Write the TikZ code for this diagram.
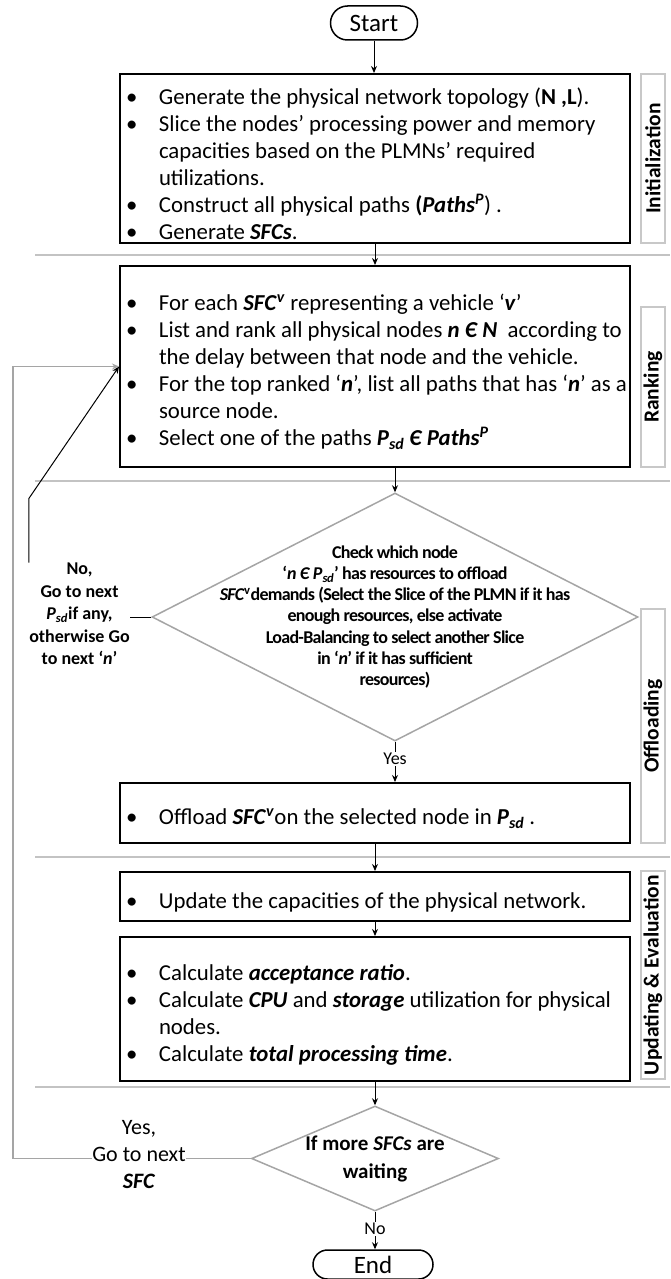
\documentclass[tikz,border=0pt]{standalone}
\usepackage{fontspec}
\setmainfont{Carlito}
\newfontfamily\tightfont[LetterSpace=-4]{Carlito}
\usetikzlibrary{arrows.meta,positioning,shapes.geometric,shapes.misc}

\definecolor{flowgray}{RGB}{165,165,165}
\definecolor{sepgray}{RGB}{195,195,195}
\definecolor{phasegray}{RGB}{200,200,200}

\newcommand{\bi}[1]{\textbf{\textit{#1}}}
\newcommand{\bitem}{\par\noindent\rightskip=0pt plus 1fil\relax\parfillskip=0pt plus 1fil\relax
  \spaceskip=0pt\relax\xspaceskip=0pt\relax
  \hangindent=36pt\hangafter=1\makebox[36pt][l]{\hspace{3pt}\textbullet}\ignorespaces}

\begin{document}
\begin{tikzpicture}[x=1pt, y=1pt, line width=1pt, >={Stealth[length=7pt,width=6pt]},
  stepbox/.style={draw, line width=2pt, minimum width=510pt, text width=504pt, inner xsep=3pt, inner ysep=0pt, font=\fontsize{22.8}{27}\selectfont},
  phase/.style={draw=phasegray, line width=1.5pt, rotate=90, minimum height=24pt, inner sep=0pt, font=\bfseries\fontsize{21.5}{24}\selectfont},
  terminal/.style={rounded rectangle, draw, line width=1.5pt, inner sep=0pt, font=\fontsize{25}{30}\selectfont},
  decision/.style={diamond, draw=flowgray, line width=1.5pt, inner sep=0pt},
  dtext/.style={align=center, inner sep=0pt, font=\tightfont\bfseries\fontsize{18}{21.3}\selectfont},
  looplabel/.style={align=center, inner sep=0pt},
  sepline/.style={draw=sepgray, line width=2pt},
  loopline/.style={draw=flowgray, line width=1.3pt}]

\useasboundingbox (0,0) rectangle (670,-1279);

% phase separators
\foreach \y in {255,481,857,1087}
  \draw[sepline] (35,-\y) -- (670,-\y);

\node[terminal, minimum width=87pt, minimum height=34pt] (start) at (374,-23) {Start};

% Initialization
\node[stepbox, minimum height=169pt] (init) at (375,-158.5) {
  \bitem Generate the physical network topology (\textbf{N ,L}).
  \bitem Slice the nodes’ processing power and memory\newline capacities based on the PLMNs' required\newline utilizations.
  \bitem Construct all physical paths \textbf{(}\bi{Paths\textsuperscript{P}}) .
  \bitem Generate \bi{SFCs}.\par};
\node[phase, minimum width=169pt] (initlbl) at (653,-158.5) {Initialization};

% Ranking
\node[stepbox, minimum height=201pt] (rank) at (375,-366.5) {
  \bitem For each \bi{SFC}\textsuperscript{\bi{v}} representing a vehicle ‘\bi{v}’
  \bitem List and rank all physical nodes \bi{n Є N}~ according to\newline the delay between that node and the vehicle.
  \bitem For the top ranked ‘\bi{n}’, list all paths that has ‘\bi{n}’ as a\newline source node.
  \bitem Select one of the paths \bi{P\textsubscript{sd} Є Paths\textsuperscript{P}}\par};
\node[phase, minimum width=160pt] (ranklbl) at (653,-387) {Ranking};

% Offloading
\node[decision, minimum width=486pt, minimum height=248pt,
  label={[dtext]center:{Check which node\\ ‘\textit{n Є P\textsubscript{sd}}’ has resources to offload\\ \textit{SFC}\textsuperscript{v}demands (Select the Slice of the PLMN if it has\\ enough resources, else activate\\ Load-Balancing to select another Slice\\ in ‘\textit{n}’ if it has sufficient\\ resources)}}] (check) at (395,-617) {};
\node[looplabel, font=\bfseries\fontsize{18}{22.5}\selectfont] (nolbl) at (79.5,-614) {No,\\ Go to next\\ \textit{P\textsubscript{sd}}if any,\\ otherwise Go\\ to next ‘\textit{n}’};
\node[stepbox, minimum height=60pt] (offload) at (375,-813) {
  \bitem Offload \bi{SFC}\textsuperscript{\bi{v}}on the selected node in \bi{P\textsubscript{sd}} .\par};
\node[phase, minimum width=234pt] (offlbl) at (653,-726) {Offloading};

% Updating and evaluation
\node[stepbox, minimum height=49pt] (update) at (375,-896.5) {
  \bitem Update the capacities of the physical network.\par};
\node[stepbox, minimum height=144pt] (calc) at (375,-1009) {
  \bitem Calculate \bi{acceptance ratio}.
  \bitem Calculate \bi{CPU} and \bi{storage} utilization for physical\newline nodes.
  \bitem Calculate \bi{total processing time}.\par};
\node[phase, minimum width=208pt] (updlbl) at (653,-975) {Updating \& Evaluation};

\node[decision, minimum width=247pt, minimum height=105pt,
  label={[dtext, font=\bfseries\fontsize{21}{28}\selectfont]center:{If more \textit{SFCs} are\\ waiting}}] (more) at (375,-1158.5) {};
\node[looplabel, font=\fontsize{22}{27}\selectfont] (yeslbl) at (139,-1155) {Yes,\\ Go to next\\ \bi{SFC}};
\node[terminal, minimum width=120pt, minimum height=29pt] (end) at (373,-1264.5) {End};

\coordinate (yesleft) at (13,-1158.5);

\draw[->] (start) -- (start |- init.north);
\draw[->] (init) -- (rank);
\draw[->] (rank.south -| check.north) -- (check.north);
\draw[->] (check.south) -- node[fill=white, inner sep=1pt, pos=0.42, font=\fontsize{18}{20}\selectfont]{Yes} (check.south |- offload.north);
\draw[->] (offload) -- (update);
\draw[->] (update) -- (calc);
\draw[->] (calc) -- (more);
\draw[->] (more.south) -- node[fill=white, inner sep=1pt, pos=0.46, font=\fontsize{18}{20}\selectfont]{No} (more.south |- end.north);

% loops back to ranking
\draw (check.west) -- (check.west -| nolbl.east);
\draw[->] (nolbl.north west) -- ++(0,64) -- (rank.west);
\draw[loopline] (more.west) -- (more.west -| yeslbl.east);
\draw[loopline, ->] (more.west -| yeslbl.west) -- (yesleft) |- (rank.west);
\end{tikzpicture}
\end{document}
